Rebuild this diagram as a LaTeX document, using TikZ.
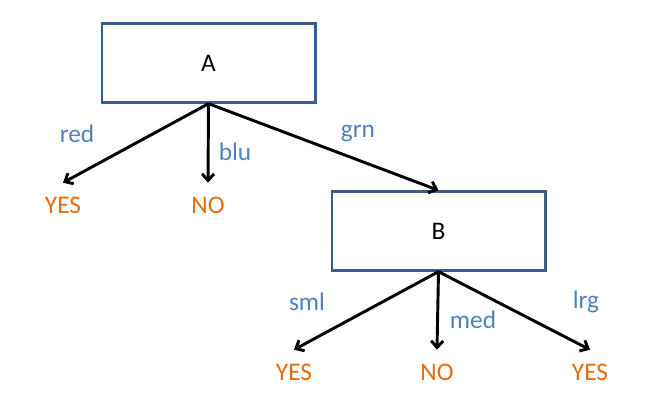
\documentclass[tikz,border=0pt]{standalone}
\usepackage{fontspec}
\setmainfont{Carlito}
\usepackage{xcolor}
\usepackage{tikz}
\usetikzlibrary{arrows.meta}
\definecolor{ulborder}{RGB}{56,93,138}
\definecolor{ullabel}{RGB}{79,129,189}
\definecolor{ulorange}{RGB}{228,108,10}

\begin{document}
\begin{tikzpicture}[x=0.75pt, y=-0.75pt,
    every node/.style={font=\fontsize{19}{23}\selectfont},
    attr/.style={rectangle, draw=ulborder, line width=2pt, minimum width=160pt, minimum height=59pt},
    branch/.style={text=ullabel, inner sep=0pt},
    leaf/.style={text=ulorange, inner sep=0pt, outer ysep=10.5pt},
    edge/.style={line width=2.2pt, -{Straight Barb[length=5pt, width=9pt]}}]
        \useasboundingbox (0,0) rectangle (657,411);

        \node (A) at (208.5,63) [attr] {A};
        \node (B) at (438.5,231) [attr] {B};

        \node (yesA) at (63,205) [leaf] {YES};
        \node (noA) at (208,205) [leaf] {NO};
        \node (yesB1) at (294,372) [leaf] {YES};
        \node (noB) at (437,372) [leaf] {NO};
        \node (yesB2) at (590,372) [leaf] {YES};

        \node (red) at (77,134) [branch] {red};
        \node (blu) at (235,152) [branch] {blu};
        \node (grn) at (358,134) [branch] {grn};
        \node (sml) at (307,302) [branch] {sml};
        \node (med) at (473,320) [branch] {med};
        \node (lrg) at (586,302) [branch] {lrg};

        \draw[edge] (A.south) -- (yesA.north);
        \draw[edge] (A.south) -- (noA.north);
        \draw[edge] (A.south) -- (B.north);
        \draw[edge] (B.south) -- (yesB1.north);
        \draw[edge] (B.south) -- (noB.north);
        \draw[edge] (B.south) -- (yesB2.north);
    \end{tikzpicture}
\end{document}
